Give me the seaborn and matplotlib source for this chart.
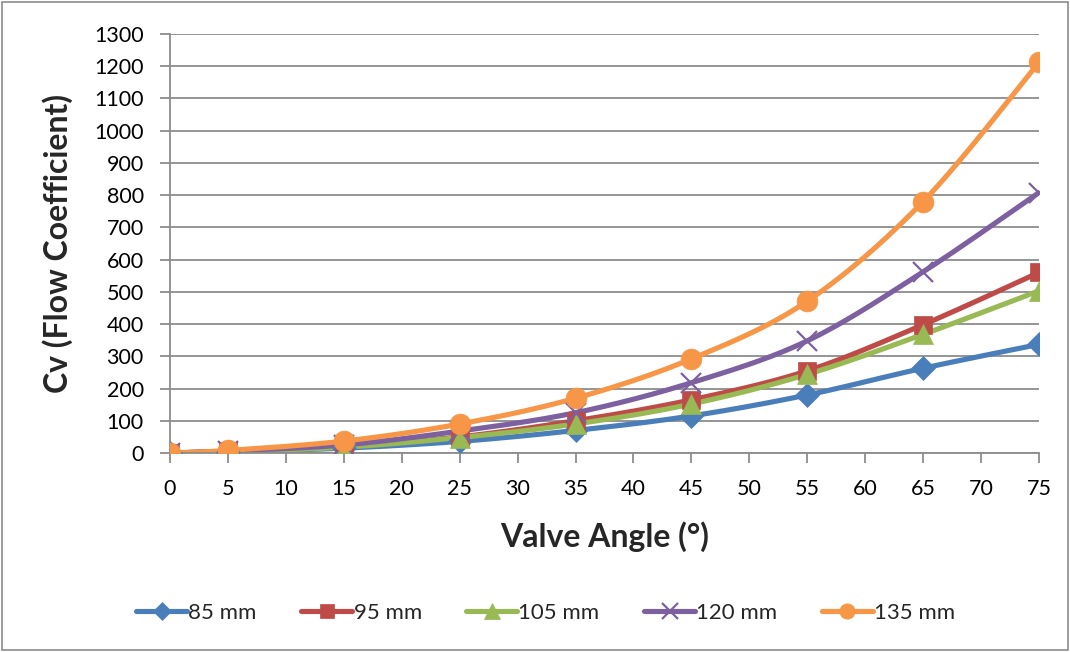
import numpy as np
import pandas as pd
import matplotlib
matplotlib.use('Agg')
import matplotlib.pyplot as plt
from matplotlib.lines import Line2D
from matplotlib.patches import Rectangle
import seaborn as sns

# Data
angles = [0, 5, 15, 25, 35, 45, 55, 65, 75]
cv_85 = [0, 4, 15, 36, 70, 115, 180, 263, 337]
cv_95 = [0, 5, 20, 50, 100, 165, 255, 398, 560]
cv_105 = [0, 5, 18, 48, 90, 152, 244, 368, 503]
cv_120 = [0, 6, 25, 68, 125, 218, 348, 562, 808]
cv_135 = [0, 8, 37, 90, 170, 292, 471, 780, 1212]
series_names = ['85 mm', '95 mm', '105 mm', '120 mm', '135 mm']

data = pd.DataFrame({'angle': angles * 5,
                     'cv': cv_85 + cv_95 + cv_105 + cv_120 + cv_135,
                     'size': [s for s in series_names for _ in angles]})

colors = ['#4A7EBB', '#BE4B48', '#98B954', '#7D60A0', '#F79646']
markers = ['D', 's', '^', 'x', 'o']
msizes = [12, 13.5, 14.5, 15, 15]
leg_sizes = [9, 10, 11, 11, 11]


def smooth(x, y, n=30):
    # Excel-style smoothed line (bezier through the points)
    x = np.asarray(x, float)
    y = np.asarray(y, float)
    px = np.concatenate([[x[0]], x, [x[-1]]])
    py = np.concatenate([[y[0]], y, [y[-1]]])
    t = np.linspace(0, 1, n)
    xs, ys = [], []
    for i in range(1, len(px) - 2):
        p0, p1, p2, p3 = [np.array([px[j], py[j]]) for j in (i - 1, i, i + 1, i + 2)]
        c1 = p1 + (p2 - p0) / 6
        c2 = p2 - (p3 - p1) / 6
        pts = ((1 - t) ** 3)[:, None] * p1 + (3 * (1 - t) ** 2 * t)[:, None] * c1 \
            + (3 * (1 - t) * t ** 2)[:, None] * c2 + (t ** 3)[:, None] * p2
        xs.extend(pts[:, 0])
        ys.extend(pts[:, 1])
    return np.array(xs), np.array(ys)


sns.set_style('white')
plt.rcParams['font.family'] = ['Lato', 'DejaVu Sans']

fig = plt.figure(figsize=(10.7, 6.52), dpi=100)
ax = fig.add_axes([0.1589, 0.3052, 0.8121, 0.6427])

handles = []
for name, col, mk, ms, ls in zip(series_names, colors, markers, msizes, leg_sizes):
    sub = data[data['size'] == name]
    sx, sy = smooth(sub['angle'], sub['cv'])
    sns.lineplot(x=sx, y=sy, sort=False, estimator=None, color=col, lw=3.7, ax=ax)
    mew = 1.6 if mk == 'x' else 0.5
    ax.plot(sub['angle'], sub['cv'], linestyle='none', marker=mk, markersize=ms,
            color=col, markeredgecolor=col, markeredgewidth=mew, zorder=3)
    handles.append(Line2D([0], [0], color=col, lw=3.7, marker=mk, markersize=ls,
                          markeredgecolor=col, markeredgewidth=mew))

ax.set_xlim(0, 75)
ax.set_ylim(0, 1300)
ax.set_xticks(range(0, 80, 5))
ax.set_yticks(range(0, 1400, 100))
ax.yaxis.grid(True, color='#8c8c8c', lw=1.3)
ax.xaxis.grid(False)
for s in ['top', 'right']:
    ax.spines[s].set_visible(False)
for s in ['left', 'bottom']:
    ax.spines[s].set_color('#8c8c8c')
    ax.spines[s].set_linewidth(1.3)
ax.tick_params(axis='both', which='major', length=7, width=1.3, color='#8c8c8c',
               direction='out', labelsize=15.5, labelcolor='black', pad=12)
ax.tick_params(bottom=True, left=True)

ax.set_xlabel('Valve Angle (°)', fontsize=23, fontweight='bold', labelpad=16)
ax.set_ylabel('Cv (Flow Coefficient)', fontsize=23, fontweight='bold', labelpad=15)

fig.legend(handles=handles, labels=series_names, loc='center', ncol=5,
           bbox_to_anchor=(0.51, 0.06), frameon=False, fontsize=16,
           handlelength=2.3, handletextpad=0.05, columnspacing=2.0)

fig.patches.append(Rectangle((0.002, 0.003), 0.996, 0.994, transform=fig.transFigure,
                             fill=False, edgecolor='#8c8c8c', lw=1.2))

fig.savefig('out.png', dpi=100)
